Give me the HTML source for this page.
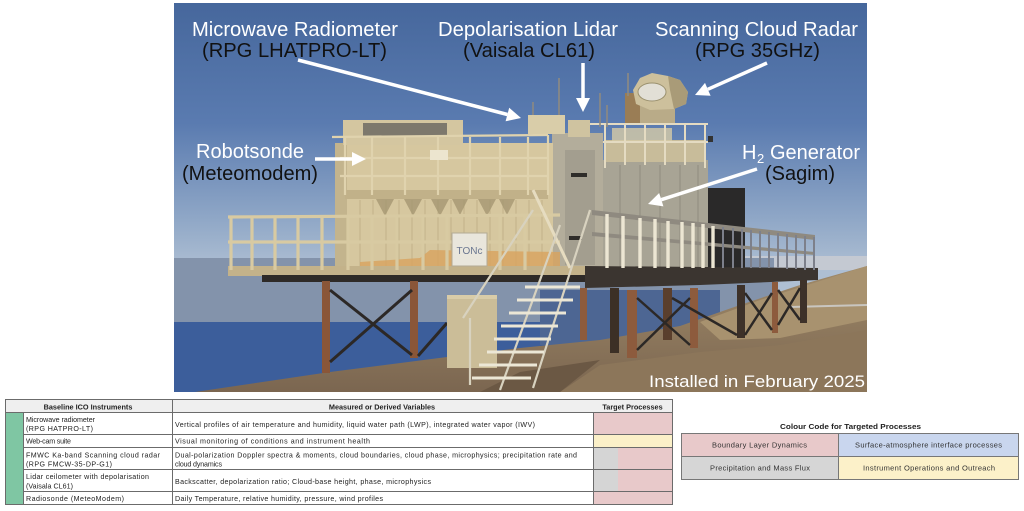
<!DOCTYPE html>
<html><head><meta charset="utf-8"><style>
html,body{margin:0;padding:0;background:#fff;}
svg{display:block;}
text{font-family:"Liberation Sans",Arial,sans-serif;}
</style></head><body>
<svg width="1024" height="511" viewBox="0 0 1024 511" xmlns="http://www.w3.org/2000/svg">
<defs>
<clipPath id="ph"><rect x="174" y="3" width="693" height="389"/></clipPath>
<linearGradient id="sky" x1="0" y1="3" x2="0" y2="270" gradientUnits="userSpaceOnUse">
<stop offset="0" stop-color="#46679c"/><stop offset="0.45" stop-color="#5a7bb0"/><stop offset="0.8" stop-color="#8ea6c6"/><stop offset="1" stop-color="#aebfd3"/>
</linearGradient>
<linearGradient id="gnd" x1="0" y1="260" x2="0" y2="392" gradientUnits="userSpaceOnUse">
<stop offset="0" stop-color="#a28c6b"/><stop offset="1" stop-color="#7b6650"/>
</linearGradient>
</defs>
<rect width="1024" height="511" fill="#fff"/>
<g clip-path="url(#ph)">
<rect x="174" y="3" width="693" height="389" fill="url(#sky)"/>
<rect x="720" y="256" width="147" height="14" fill="#c4c9d2"/>
<rect x="174" y="258" width="600" height="66" fill="#8393ab"/>
<rect x="174" y="322" width="600" height="70" fill="#3c5e9b"/>
<rect x="540" y="290" width="180" height="55" fill="#4d6693"/>
<polygon points="195,392 330,372 447,357 520,348 600,340 680,326 740,305 800,285 867,266 867,392" fill="url(#gnd)"/>
<polygon points="700,322 760,300 867,266 867,320 780,338 720,340" fill="#a8926f"/>
<polygon points="560,392 600,365 700,352 780,345 867,330 867,392" fill="#8c765a"/>
<line x1="790" y1="307" x2="867" y2="305" stroke="#c9c6c0" stroke-width="2"/>
<polygon points="480,392 520,372 600,360 560,392" fill="#6b5844"/>
<rect x="708" y="188" width="37" height="84" fill="#2a2929"/>
<rect x="600" y="160" width="108" height="112" fill="#a8a495"/>
<g stroke="#8f8b7e" stroke-width="1">
<line x1="620" y1="165" x2="620" y2="270"/><line x1="640" y1="165" x2="640" y2="270"/><line x1="660" y1="165" x2="660" y2="270"/><line x1="680" y1="165" x2="680" y2="270"/><line x1="698" y1="165" x2="698" y2="270"/>
</g>
<rect x="605" y="140" width="100" height="22" fill="#c8bc9a"/>
<rect x="612" y="128" width="60" height="14" fill="#d6caa6" opacity="0.8"/>
<rect x="625" y="93" width="15" height="32" fill="#9a7d55"/>
<rect x="640" y="100" width="35" height="25" fill="#b9ab88"/>
<polygon points="640,78 652,73 668,76 680,80 688,92 686,104 674,109 650,110 636,104 633,90" fill="#cdc09c"/>
<polygon points="668,76 680,80 688,92 686,104 674,109 670,90" fill="#a99b78"/>
<ellipse cx="652" cy="92" rx="14" ry="9" fill="#e2dfd6" stroke="#9b916f" stroke-width="1"/>
<g stroke="#e4dbc2" stroke-width="2">
<line x1="587" y1="124" x2="708" y2="124"/><line x1="600" y1="142" x2="708" y2="142"/>
<line x1="605" y1="124" x2="605" y2="168"/><line x1="625" y1="124" x2="625" y2="165"/><line x1="645" y1="124" x2="645" y2="165"/><line x1="665" y1="124" x2="665" y2="165"/><line x1="685" y1="124" x2="685" y2="165"/><line x1="705" y1="124" x2="705" y2="168"/>
</g>
<rect x="708" y="136" width="5" height="6" fill="#333"/>
<rect x="552" y="133" width="51" height="139" fill="#b3ad9b"/>
<rect x="565" y="150" width="30" height="115" fill="#a39e8f"/>
<rect x="571" y="173" width="16" height="4" fill="#2f2d2a"/>
<rect x="569" y="236" width="13" height="4" fill="#2f2d2a"/>
<g stroke="#8e8a82" stroke-width="1.6">
<line x1="533" y1="102" x2="533" y2="120"/><line x1="559" y1="78" x2="559" y2="120"/><line x1="600" y1="93" x2="600" y2="127"/><line x1="607" y1="105" x2="607" y2="127"/><line x1="628" y1="73" x2="628" y2="96"/>
</g>
<rect x="528" y="115" width="37" height="19" fill="#d9cda9"/>
<rect x="568" y="120" width="22" height="17" fill="#cfc3a0"/>
<rect x="335" y="143" width="218" height="129" fill="#d6c79f"/>
<rect x="335" y="143" width="12" height="129" fill="#c3b48d"/>
<g stroke="#c1b28a" stroke-width="1">
<line x1="360" y1="200" x2="360" y2="268"/><line x1="373" y1="200" x2="373" y2="268"/><line x1="386" y1="200" x2="386" y2="268"/><line x1="399" y1="200" x2="399" y2="268"/><line x1="412" y1="200" x2="412" y2="268"/><line x1="425" y1="200" x2="425" y2="268"/><line x1="438" y1="200" x2="438" y2="268"/><line x1="451" y1="200" x2="451" y2="268"/><line x1="464" y1="200" x2="464" y2="268"/><line x1="477" y1="200" x2="477" y2="268"/><line x1="490" y1="200" x2="490" y2="268"/><line x1="503" y1="200" x2="503" y2="268"/><line x1="516" y1="200" x2="516" y2="268"/><line x1="529" y1="200" x2="529" y2="268"/><line x1="542" y1="200" x2="542" y2="268"/>
</g>
<rect x="345" y="190" width="203" height="9" fill="#c1b189"/>
<g fill="#a3946f" opacity="0.75">
<polygon points="376,199 394,199 385,216"/><polygon points="404,199 422,199 413,216"/><polygon points="431,199 449,199 440,216"/><polygon points="452,199 468,199 460,215"/><polygon points="478,199 496,199 487,216"/><polygon points="499,199 515,199 507,215"/>
</g>
<polygon points="360,262 420,258 430,250 560,252 560,266 360,268" fill="#d8a35e" opacity="0.8"/>
<rect x="343" y="120" width="120" height="25" fill="#d4c6a0"/>
<rect x="363" y="123" width="84" height="13" fill="#7d786c"/>
<g stroke="#e0d3ae" stroke-width="2.2">
<line x1="332" y1="137" x2="548" y2="135"/><line x1="340" y1="158" x2="548" y2="158"/><line x1="340" y1="176" x2="548" y2="176"/>
<line x1="345" y1="137" x2="345" y2="195"/><line x1="372" y1="137" x2="372" y2="195"/><line x1="405" y1="137" x2="405" y2="195"/><line x1="438" y1="137" x2="438" y2="195"/><line x1="470" y1="137" x2="470" y2="195"/><line x1="500" y1="137" x2="500" y2="195"/><line x1="528" y1="137" x2="528" y2="195"/><line x1="548" y1="135" x2="548" y2="195"/>
</g>
<rect x="430" y="150" width="18" height="10" fill="#ece5cf"/>
<rect x="228" y="266" width="362" height="10" fill="#c3b28a"/>
<rect x="262" y="275" width="328" height="7" fill="#2e2a27"/>
<polygon points="585,266 818,268 818,280 700,285 585,288" fill="#3b3530"/>
<rect x="322" y="281" width="8" height="92" fill="#8a5638"/>
<rect x="410" y="281" width="8" height="77" fill="#8a5638"/>
<g stroke="#2c2826" stroke-width="3">
<line x1="330" y1="290" x2="412" y2="355"/><line x1="412" y1="290" x2="330" y2="362"/><line x1="418" y1="356" x2="447" y2="323"/>
</g>
<rect x="580" y="288" width="7" height="52" fill="#8d5b3d"/>
<rect x="610" y="288" width="9" height="65" fill="#3c3026"/>
<rect x="627" y="290" width="10" height="68" fill="#8d5b3d"/>
<rect x="663" y="288" width="9" height="52" fill="#5a3f2d"/>
<rect x="690" y="288" width="8" height="60" fill="#8d5b3d"/>
<rect x="737" y="285" width="8" height="53" fill="#3d3129"/>
<rect x="772" y="282" width="6" height="51" fill="#8d5b3d"/>
<rect x="800" y="280" width="7" height="43" fill="#3d3129"/>
<g stroke="#2c2826" stroke-width="2.5">
<line x1="637" y1="298" x2="690" y2="345"/><line x1="690" y1="298" x2="637" y2="350"/>
<line x1="672" y1="298" x2="737" y2="335"/>
<line x1="745" y1="293" x2="772" y2="330"/><line x1="772" y1="293" x2="745" y2="335"/>
<line x1="778" y1="290" x2="800" y2="320"/><line x1="800" y1="288" x2="778" y2="325"/>
</g>
<g stroke="#d8caa2" stroke-width="3.2">
<line x1="228" y1="217" x2="560" y2="215"/><line x1="228" y1="242" x2="560" y2="242"/>
<line x1="231" y1="217" x2="231" y2="270"/><line x1="252" y1="217" x2="252" y2="270"/><line x1="275" y1="217" x2="275" y2="270"/><line x1="298" y1="217" x2="298" y2="270"/><line x1="322" y1="217" x2="322" y2="270"/><line x1="348" y1="216" x2="348" y2="270"/><line x1="372" y1="216" x2="372" y2="270"/><line x1="397" y1="216" x2="397" y2="270"/><line x1="423" y1="216" x2="423" y2="270"/><line x1="447" y1="216" x2="447" y2="270"/><line x1="500" y1="216" x2="500" y2="270"/><line x1="525" y1="216" x2="525" y2="270"/>
</g>
<polygon points="592,210 815,235 815,240 592,215" fill="#8f8a80"/>
<polygon points="592,232 815,252 815,255 592,236" fill="#8f8a80"/>
<g stroke="#ece6d3" stroke-width="3.4">
<line x1="607" y1="214" x2="607" y2="268"/><line x1="623" y1="216" x2="623" y2="268"/><line x1="640" y1="218" x2="640" y2="268"/><line x1="655" y1="219" x2="655" y2="268"/><line x1="668" y1="221" x2="668" y2="268"/><line x1="682" y1="222" x2="682" y2="268"/><line x1="693" y1="223" x2="693" y2="268"/><line x1="703" y1="224" x2="703" y2="268"/><line x1="713" y1="226" x2="713" y2="268"/>
</g>
<g stroke="#7d808b" stroke-width="2">
<line x1="723" y1="227" x2="723" y2="268"/><line x1="733" y1="228" x2="733" y2="268"/><line x1="742" y1="229" x2="742" y2="268"/><line x1="751" y1="230" x2="751" y2="268"/><line x1="760" y1="231" x2="760" y2="268"/><line x1="769" y1="232" x2="769" y2="268"/><line x1="778" y1="233" x2="778" y2="268"/><line x1="787" y1="234" x2="787" y2="269"/><line x1="796" y1="235" x2="796" y2="269"/><line x1="805" y1="236" x2="805" y2="270"/><line x1="814" y1="237" x2="814" y2="270"/>
</g>
<rect x="447" y="295" width="50" height="73" fill="#cbbd98"/>
<rect x="447" y="295" width="50" height="4" fill="#d9cca8"/>
<rect x="452" y="233" width="35" height="33" fill="#e9e6dc" stroke="#b3ab95" stroke-width="1"/>
<text x="469.5" y="254" font-size="10" fill="#6a7690" text-anchor="middle">TONc</text>
<line x1="533" y1="190" x2="570" y2="268" stroke="#e6dcc0" stroke-width="3"/>
<g stroke="#d8d2bf" stroke-width="2.2">
<line x1="533" y1="210" x2="463" y2="318"/><line x1="590" y1="210" x2="533" y2="388"/><line x1="470" y1="318" x2="470" y2="385"/><line x1="560" y1="225" x2="500" y2="390"/>
</g>
<g stroke="#ece7d6" stroke-width="3">
<line x1="525" y1="287" x2="580" y2="287"/><line x1="517" y1="300" x2="573" y2="300"/><line x1="509" y1="313" x2="566" y2="313"/><line x1="501" y1="326" x2="558" y2="326"/><line x1="494" y1="339" x2="551" y2="339"/><line x1="487" y1="352" x2="544" y2="352"/><line x1="479" y1="365" x2="537" y2="365"/><line x1="472" y1="378" x2="531" y2="378"/>
</g>
</g>
<g font-size="20">
<text x="192" y="36" fill="#fff" textLength="206" lengthAdjust="spacingAndGlyphs">Microwave Radiometer</text>
<text x="202" y="57" fill="#111" textLength="185" lengthAdjust="spacingAndGlyphs">(RPG LHATPRO-LT)</text>
<text x="438" y="36" fill="#fff" textLength="180" lengthAdjust="spacingAndGlyphs">Depolarisation Lidar</text>
<text x="463" y="57" fill="#111" textLength="132" lengthAdjust="spacingAndGlyphs">(Vaisala CL61)</text>
<text x="655" y="36" fill="#fff" textLength="203" lengthAdjust="spacingAndGlyphs">Scanning Cloud Radar</text>
<text x="695" y="57" fill="#111" textLength="125" lengthAdjust="spacingAndGlyphs">(RPG 35GHz)</text>
<text x="196" y="158" fill="#fff" textLength="108" lengthAdjust="spacingAndGlyphs">Robotsonde</text>
<text x="182" y="180" fill="#111" textLength="136" lengthAdjust="spacingAndGlyphs">(Meteomodem)</text>
<text x="742" y="159" fill="#fff">H</text>
<text x="757" y="163" fill="#fff" font-size="13">2</text>
<text x="770" y="159" fill="#fff" textLength="90" lengthAdjust="spacingAndGlyphs">Generator</text>
<text x="765" y="180" fill="#111" textLength="70" lengthAdjust="spacingAndGlyphs">(Sagim)</text>
</g>
<text x="649" y="387" fill="#fff" font-size="17" textLength="216" lengthAdjust="spacingAndGlyphs">Installed in February 2025</text>
<g stroke="#fff" stroke-width="3.5" fill="#fff">
<line x1="298" y1="60" x2="507.4" y2="114.5"/>
<line x1="315" y1="159" x2="352" y2="159"/>
<line x1="583" y1="63" x2="583" y2="98"/>
<line x1="767" y1="63" x2="707.8" y2="89.3"/>
<line x1="757" y1="169" x2="661.3" y2="199.7"/>
</g>
<g fill="#fff">
<polygon points="521,118 505.6,121.3 509.2,107.7"/>
<polygon points="366,159 352,152 352,166"/>
<polygon points="583,112 576,98 590,98"/>
<polygon points="695,95 705,82.9 710.6,95.7"/>
<polygon points="648,204 659.2,193 663.4,206.4"/>
</g>
<g stroke="#6b6b6b" stroke-width="1">
<rect x="5.5" y="399.5" width="667" height="13" fill="#efefef"/>
<rect x="5.5" y="412.5" width="18" height="92" fill="#7fc6a3"/>
<rect x="593.5" y="412.5" width="79" height="22" fill="#e8c9ca"/>
<rect x="593.5" y="434.5" width="79" height="13" fill="#fbf0c8"/>
<rect x="593.5" y="447.5" width="79" height="22" fill="#e8c9ca"/>
<rect x="593.5" y="469.5" width="79" height="22" fill="#e8c9ca"/>
<rect x="593.5" y="491.5" width="79" height="13" fill="#e8c9ca"/>
</g>
<rect x="594" y="448" width="24" height="21" fill="#d5d5d5"/>
<rect x="594" y="470" width="24" height="21" fill="#d5d5d5"/>
<g stroke="#6b6b6b" stroke-width="1" fill="none">
<line x1="172.5" y1="399.5" x2="172.5" y2="504.5"/>
<line x1="23.5" y1="434.5" x2="593.5" y2="434.5"/>
<line x1="23.5" y1="447.5" x2="593.5" y2="447.5"/>
<line x1="23.5" y1="469.5" x2="593.5" y2="469.5"/>
<line x1="23.5" y1="491.5" x2="593.5" y2="491.5"/>
<rect x="5.5" y="399.5" width="667" height="105"/>
<line x1="5.5" y1="412.5" x2="672.5" y2="412.5"/>
</g>
<g font-size="7.3" font-weight="bold" fill="#222" text-anchor="middle">
<text x="88" y="409.5">Baseline ICO Instruments</text>
<text x="382" y="409.5">Measured or Derived Variables</text>
<text x="632.5" y="409.5">Target Processes</text>
</g>
<g font-size="7.1" fill="#222">
<text x="26" y="422" textLength="69" lengthAdjust="spacing">Microwave radiometer</text>
<text x="26" y="431" textLength="67" lengthAdjust="spacing">(RPG HATPRO-LT)</text>
<text x="175" y="427" textLength="360" lengthAdjust="spacing">Vertical profiles of air temperature and humidity, liquid water path (LWP), integrated water vapor (IWV)</text>
<text x="26" y="443.5" textLength="45" lengthAdjust="spacing">Web-cam suite</text>
<text x="175" y="443.5" textLength="195" lengthAdjust="spacing">Visual monitoring of conditions and instrument health</text>
<text x="26" y="457.5" textLength="134" lengthAdjust="spacing">FMWC Ka-band Scanning cloud radar</text>
<text x="26" y="466.5" textLength="86" lengthAdjust="spacing">(RPG FMCW-35-DP-G1)</text>
<text x="175" y="457.5" textLength="402" lengthAdjust="spacing">Dual-polarization Doppler spectra &amp; moments, cloud boundaries, cloud phase, microphysics; precipitation rate and</text>
<text x="175" y="466.5" textLength="47" lengthAdjust="spacing">cloud dynamics</text>
<text x="26" y="479" textLength="123" lengthAdjust="spacing">Lidar ceilometer with depolarisation</text>
<text x="26" y="488.5" textLength="47" lengthAdjust="spacing">(Vaisala CL61)</text>
<text x="175" y="484" textLength="256" lengthAdjust="spacing">Backscatter, depolarization ratio; Cloud-base height, phase, microphysics</text>
<text x="26" y="501" textLength="98" lengthAdjust="spacing">Radiosonde (MeteoModem)</text>
<text x="175" y="501" textLength="208" lengthAdjust="spacing">Daily Temperature, relative humidity, pressure, wind profiles</text>
</g>
<text x="850.5" y="429" font-size="7.6" font-weight="bold" fill="#222" text-anchor="middle" textLength="141" lengthAdjust="spacingAndGlyphs">Colour Code for Targeted Processes</text>
<g stroke="#777" stroke-width="1">
<rect x="681.5" y="433.5" width="157" height="23" fill="#e8c9ca"/>
<rect x="838.5" y="433.5" width="180" height="23" fill="#c9d6ee"/>
<rect x="681.5" y="456.5" width="157" height="23" fill="#d6d6d6"/>
<rect x="838.5" y="456.5" width="180" height="23" fill="#fcf1c9"/>
</g>
<g font-size="7.5" fill="#333" text-anchor="middle">
<text x="759.5" y="447.5" textLength="95" lengthAdjust="spacing">Boundary Layer Dynamics</text>
<text x="928.5" y="447.5" textLength="147" lengthAdjust="spacing">Surface-atmosphere interface processes</text>
<text x="760" y="470.5" textLength="100" lengthAdjust="spacing">Precipitation and Mass Flux</text>
<text x="929" y="470.5" textLength="132" lengthAdjust="spacing">Instrument Operations and Outreach</text>
</g>
</svg>
</body></html>
